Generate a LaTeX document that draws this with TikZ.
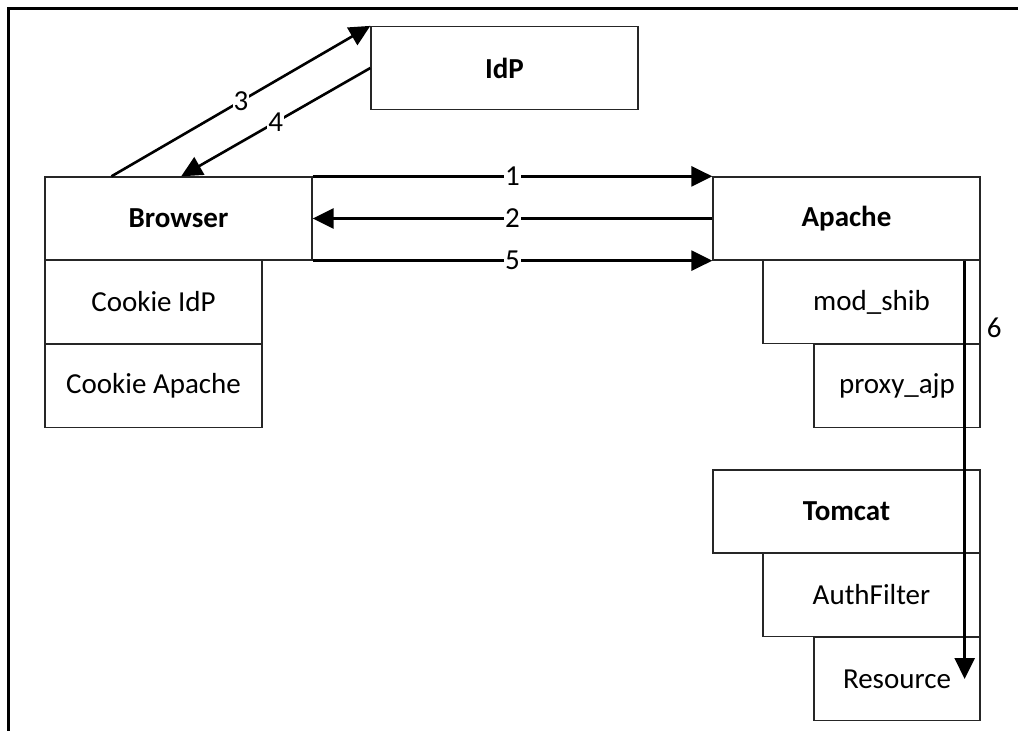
\documentclass[tikz,border=0pt]{standalone}
\usepackage{fontspec}
\setmainfont{Carlito}
\usetikzlibrary{calc,arrows.meta}

\begin{document}
\begin{tikzpicture}[x=1pt,y=-1pt]
                      \tikzstyle{box}=[draw=black!85,line width=1.3pt,inner sep=0pt,minimum height=83pt,font=\fontsize{29}{34}\selectfont]
                      \tikzstyle{wide}=[box,minimum width=267pt]
                      \tikzstyle{mid}=[box,minimum width=217pt]
                      \tikzstyle{narrow}=[box,minimum width=166pt]
                      \tikzstyle{flow}=[line width=2.6pt,-{Triangle[length=21pt,width=20pt]}]
                      \tikzstyle{num}=[fill=white,inner sep=1pt,font=\fontsize{29}{34}\selectfont]
                      \useasboundingbox (0,0) rectangle (1018,731);
                      \draw[line width=3pt] (8,731) -- (8,8) -- (1018,8);
                      % left side
                      \node[wide] (idp) at (504.5,68) {\textbf{IdP}};
                      \node[wide] (browser) at (178.5,218.5) {\textbf{Browser}};
                      \node[mid] (cidp) at (153.5,302) {Cookie IdP};
                      \node[mid] (capache) at (153.5,386) {Cookie Apache};
                      % right side
                      \node[wide] (apache) at (846.5,218.5) {\textbf{Apache}};
                      \node[mid] (modshib) at (871.5,302) {mod\_shib};
                      \node[narrow] (proxy) at (897,386) {proxy\_ajp};
                      \node[wide] (tomcat) at (846.5,511.5) {\textbf{Tomcat}};
                      \node[mid] (authf) at (871.5,595) {AuthFilter};
                      \node[narrow] (resource) at (897,679) {Resource};
                      % messages
                      \draw[flow] (browser.north east) -- (apache.north west) node [num, midway] {1};
                      \draw[flow] (apache.west) -- (browser.east) node [num, midway] {2};
                      \draw[flow] ($(browser.north west)!0.25!(browser.north east)$) -- (idp.north west) node [num, midway] {3};
                      \draw[flow] (idp.west) -- ($(browser.north west)!0.51!(browser.north east)$) node [num, midway] {4};
                      \draw[flow] (browser.south east) -- (apache.south west) node [num, midway] {5};
                      \draw[flow] ($(apache.south east)+(-16,0)$) coordinate (s6) -- (s6 |- resource.center) node [num, pos=0.16, right=20pt, fill=none] {6};
                  \end{tikzpicture}
\end{document}
